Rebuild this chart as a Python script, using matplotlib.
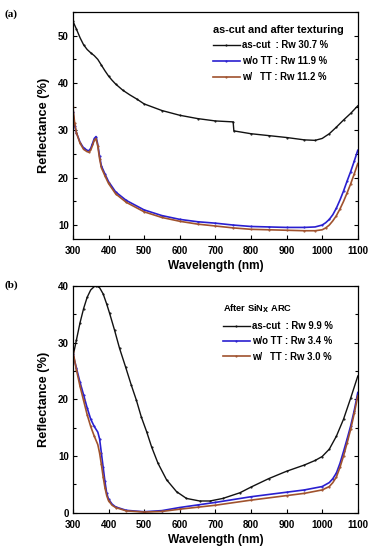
import matplotlib
matplotlib.use("Agg")
import matplotlib.pyplot as plt
from matplotlib.ticker import MultipleLocator

plt.rcParams["font.family"] = ["Liberation Sans", "DejaVu Sans"]
plt.rcParams["font.weight"] = "bold"

# ===== (a) as-cut and after texturing =====
wl_a = [300, 310, 320, 330, 340, 350, 360, 370, 380, 390, 400, 410, 420, 440, 460, 480,
        500, 550, 600, 650, 700, 750, 752, 800, 850, 900, 950, 980, 1000, 1020, 1040,
        1060, 1080, 1100]
ascut_a = [53.1, 51.4, 49.6, 48.1, 47.1, 46.4, 45.8, 45.0, 43.8, 42.6, 41.5, 40.6, 39.8,
           38.5, 37.5, 36.6, 35.6, 34.2, 33.2, 32.5, 32.0, 31.8, 29.9, 29.3, 28.9, 28.5,
           28.0, 27.9, 28.3, 29.3, 30.7, 32.2, 33.6, 35.2]

wl_b = [300, 305, 310, 320, 330, 340, 345, 350, 355, 360, 365, 370, 375, 380, 390, 400,
        420, 450, 500, 550, 600, 650, 700, 750, 800, 850, 900, 950, 980, 1000, 1010,
        1020, 1030, 1040, 1050, 1060, 1070, 1080, 1090, 1100]
wo_tt_a = [33.8, 31.0, 29.5, 27.5, 26.3, 25.8, 25.7, 26.2, 27.2, 28.3, 28.7, 27.0, 24.5, 22.5,
           20.8, 19.2, 17.0, 15.2, 13.2, 12.0, 11.2, 10.7, 10.4, 10.0, 9.7, 9.6, 9.5, 9.5,
           9.6, 10.0, 10.5, 11.2, 12.2, 13.6, 15.3, 17.2, 19.3, 21.3, 23.5, 25.8]
w_tt_a = [35.0, 31.5, 29.5, 27.3, 26.0, 25.5, 25.4, 25.8, 26.8, 27.9, 28.3, 26.6, 24.0, 22.1,
          20.4, 18.8, 16.6, 14.8, 12.8, 11.6, 10.8, 10.2, 9.8, 9.4, 9.1, 9.0, 8.9, 8.8,
          8.8, 9.0, 9.4, 10.0, 10.9, 12.0, 13.4, 15.0, 16.8, 18.7, 20.8, 23.0]

# ===== (b) after SiNx ARC =====
wl_c = [300, 310, 320, 330, 340, 350, 360, 366, 375, 385, 395, 403, 417, 431, 448, 464,
        478, 492, 507, 521, 539, 563, 591, 619, 656, 685, 721, 769, 800, 850, 900, 950,
        980, 1000, 1020, 1040, 1060, 1080, 1100]
ascut_b = [27.5, 30.5, 33.5, 36.0, 38.0, 39.3, 39.9, 40.0, 39.7, 38.6, 36.8, 35.2, 32.2,
           29.0, 25.7, 22.5, 19.9, 16.9, 14.3, 11.6, 8.7, 5.8, 3.7, 2.5, 2.05, 2.05, 2.5,
           3.5, 4.5, 6.0, 7.3, 8.4, 9.2, 9.9, 11.2, 13.5, 16.5, 20.2, 24.1]

wl_d = [300, 310, 320, 330, 340, 350, 360, 370, 375, 380, 385, 390, 395, 400, 410, 420,
        450, 500, 550, 600, 650, 700, 800, 900, 950, 1000, 1020, 1030, 1040, 1050, 1060,
        1070, 1080, 1090, 1100]
wo_tt_b = [28.0, 25.5, 23.0, 20.8, 18.5, 16.5, 15.2, 14.2, 13.0, 10.5, 8.0, 5.5, 3.4, 2.4,
           1.5, 1.0, 0.4, 0.15, 0.35, 0.9, 1.35, 1.8, 2.8, 3.6, 4.0, 4.6, 5.3, 6.0, 7.0,
           8.7, 10.8, 13.0, 15.3, 18.0, 21.2]
w_tt_b = [28.5, 25.2, 22.3, 19.8, 17.3, 15.2, 13.5, 12.0, 10.5, 8.5, 6.3, 4.4, 3.0, 2.1,
          1.3, 0.9, 0.3, 0.1, 0.2, 0.6, 0.95, 1.3, 2.2, 3.0, 3.4, 4.0, 4.6, 5.3, 6.3,
          8.0, 10.0, 12.3, 14.7, 17.5, 20.6]

labels_a = ["as-cut  : Rw 30.7 %", "w/o TT : Rw 11.9 %", "w/   TT : Rw 11.2 %"]
labels_b = ["as-cut  : Rw 9.9 %", "w/o TT : Rw 3.4 %", "w/   TT : Rw 3.0 %"]

BLACK = "#111111"
BLUE = "#2a1fd0"
BROWN = "#a0522d"

fig = plt.figure(figsize=(3.7, 5.5), dpi=100)
ax1 = fig.add_axes([0.197, 0.565, 0.770, 0.413])
ax2 = fig.add_axes([0.197, 0.068, 0.770, 0.412])


def style_axis(ax, ylim, ymajor):
    ax.set_xlim(300, 1100)
    ax.set_ylim(*ylim)
    ax.xaxis.set_major_locator(MultipleLocator(100))
    ax.yaxis.set_major_locator(MultipleLocator(ymajor))
    ax.yaxis.set_minor_locator(MultipleLocator(ymajor / 2))
    ax.tick_params(direction="in", which="both", right=True, labelsize=7, width=0.8)
    ax.tick_params(axis="x", pad=5)
    ax.tick_params(axis="y", pad=3)
    ax.tick_params(which="major", length=3)
    ax.tick_params(which="minor", length=2)
    for lab in ax.get_xticklabels() + ax.get_yticklabels():
        lab.set_fontweight("bold")
    for sp in ax.spines.values():
        sp.set_linewidth(0.9)
    ax.set_xlabel("Wavelength (nm)", fontsize=8.6, fontweight="bold", labelpad=3)
    ax.set_ylabel("Reflectance (%)", fontsize=9.2, fontweight="bold", labelpad=6)


def add_legend(ax, title, title_size, anchor, first_gap, spacing):
    leg = ax.legend(loc="upper left", bbox_to_anchor=anchor, frameon=False,
                    title=title, fontsize=6.9, handlelength=2.8, handletextpad=0.3,
                    labelspacing=spacing, borderaxespad=0.0, borderpad=0.0)
    leg.get_title().set_fontweight("bold")
    leg.get_title().set_fontsize(title_size)
    leg._legend_box.align = "left"
    leg._legend_box.sep = first_gap
    for t in leg.get_texts():
        t.set_fontweight("bold")
    return leg


line_kw = dict(marker=".", ms=1.1, markevery=0.035)
ax1.plot(wl_a, ascut_a, color=BLACK, lw=1.0, label=labels_a[0], **line_kw)
ax1.plot(wl_b, wo_tt_a, color=BLUE, lw=1.2, label=labels_a[1], **line_kw)
ax1.plot(wl_b, w_tt_a, color=BROWN, lw=1.2, label=labels_a[2], **line_kw)
style_axis(ax1, (7, 55), 10)
add_legend(ax1, "as-cut and after texturing", 7.8, (0.491, 0.945), 4, 0.62)

ax2.plot(wl_c, ascut_b, color=BLACK, lw=1.0, label=labels_b[0], **line_kw)
ax2.plot(wl_d, wo_tt_b, color=BLUE, lw=1.2, label=labels_b[1], **line_kw)
ax2.plot(wl_d, w_tt_b, color=BROWN, lw=1.2, label=labels_b[2], **line_kw)
style_axis(ax2, (0, 40), 10)
add_legend(ax2, "After SiN$_\\mathbf{X}$ ARC", 6.7, (0.526, 0.925), 4, 0.55)

fig.text(0.012, 0.975, "(a)", fontsize=8, family="Liberation Serif", va="center")
fig.text(0.012, 0.482, "(b)", fontsize=8, family="Liberation Serif", fontweight="bold", va="center")

fig.savefig("out.png", dpi=100)
plt.close(fig)
